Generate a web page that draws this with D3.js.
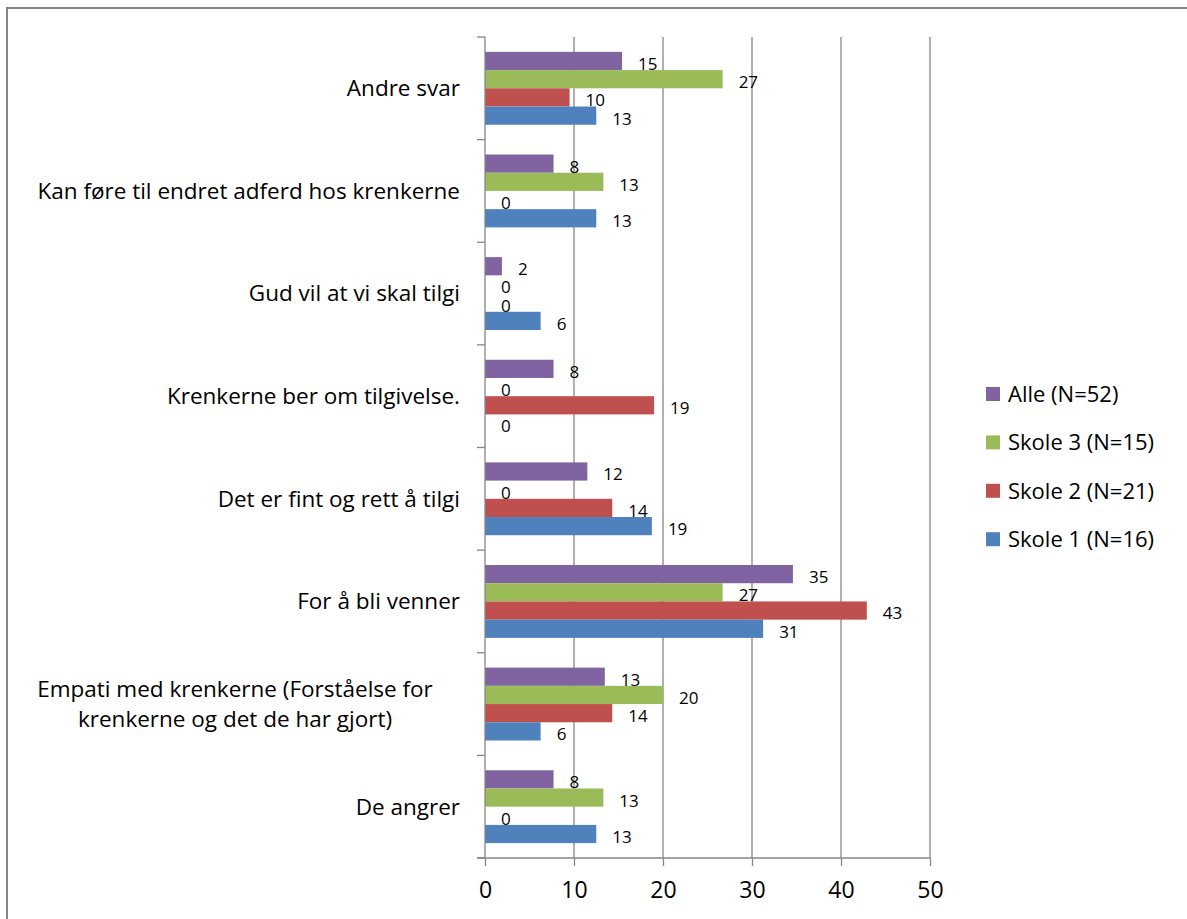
<!DOCTYPE html>
<html>
<head>
<meta charset="utf-8">
<script src="https://cdn.jsdelivr.net/npm/d3@7"></script>
<style>
  body { margin: 0; background: #fff; }
  text { font-family: "Open Sans", "Liberation Sans", Arial, sans-serif; fill: #000; }
</style>
</head>
<body>
<script>
// categories top to bottom
var categories = [
  "Andre svar",
  "Kan føre til endret adferd hos krenkerne",
  "Gud vil at vi skal tilgi",
  "Krenkerne ber om tilgivelse.",
  "Det er fint og rett å tilgi ",
  "For å bli venner",
  "Empati med krenkerne (Forståelse for|krenkerne og det de har gjort)",
  "De angrer"
];
var seriesNames = ["Alle (N=52)", "Skole 3 (N=15)", "Skole 2 (N=21)", "Skole 1 (N=16)"];
var alle   = [15.4, 7.7, 1.9, 7.7, 11.5, 34.6, 13.46, 7.7];
var skole3 = [26.7, 13.3, 0, 0, 0, 26.7, 20.0, 13.3];
var skole2 = [9.5, 0, 0, 19.0, 14.3, 42.9, 14.3, 0];
var skole1 = [12.5, 12.5, 6.25, 0, 18.75, 31.25, 6.25, 12.5];
var colors = ["#8064A2", "#9BBB59", "#C0504D", "#4F81BD"];
var xTicks = [0, 10, 20, 30, 40, 50];

var seriesValues = [alle, skole3, skole2, skole1];
var width = 1187, height = 919;
var gridColor = "#868686";

var svg = d3.select("body").append("svg")
    .attr("width", width)
    .attr("height", height);

// outer chart border (only top and left visible)
svg.append("path")
    .attr("d", "M7,919 V8 H1187")
    .attr("fill", "none")
    .attr("stroke", gridColor)
    .attr("stroke-width", 2);

var x = d3.scaleLinear().domain([0, 50]).range([485, 930]);
var y = d3.scaleBand().domain(categories).range([37, 858])
    .paddingInner(0.29).paddingOuter(0.145);
var ySub = d3.scaleBand().domain(d3.range(seriesNames.length)).range([0, y.bandwidth()]);

// gridlines
svg.append("g").selectAll("line")
    .data(xTicks.slice(1))
    .enter().append("line")
    .attr("x1", function (d) { return x(d); })
    .attr("x2", function (d) { return x(d); })
    .attr("y1", 37)
    .attr("y2", 858)
    .attr("stroke", gridColor)
    .attr("stroke-width", 1.3);

// bars
var rows = categories.map(function (c, i) {
    return seriesValues.map(function (vals, s) { return { cat: c, s: s, v: vals[i] }; });
});
var groups = svg.append("g").selectAll("g")
    .data(rows)
    .enter().append("g")
    .attr("transform", function (d, i) { return "translate(0," + y(categories[i]) + ")"; });

groups.selectAll("rect")
    .data(function (d) { return d; })
    .enter().append("rect")
    .attr("x", x(0))
    .attr("y", function (d) { return ySub(d.s); })
    .attr("width", function (d) { return x(d.v) - x(0); })
    .attr("height", ySub.bandwidth())
    .attr("fill", function (d) { return colors[d.s]; });

groups.selectAll("text")
    .data(function (d) { return d; })
    .enter().append("text")
    .attr("x", function (d) { return x(d.v) + 16; })
    .attr("y", function (d) { return ySub(d.s) + ySub.bandwidth() / 2 + 3; })
    .attr("dy", "0.35em")
    .style("font-size", "17px")
    .text(function (d) { return Math.round(d.v); });

// y axis line and ticks at category boundaries
var bounds = categories.map(function (c) { return y(c) - y.step() * y.paddingInner() / 2; });
bounds.push(858);
svg.append("line")
    .attr("x1", x(0)).attr("x2", x(0))
    .attr("y1", 37).attr("y2", 858)
    .attr("stroke", gridColor).attr("stroke-width", 1.3);
svg.append("g").selectAll("line")
    .data(bounds)
    .enter().append("line")
    .attr("x1", x(0) - 8).attr("x2", x(0))
    .attr("y1", function (d) { return d; })
    .attr("y2", function (d) { return d; })
    .attr("stroke", gridColor).attr("stroke-width", 1.3);

// category labels
svg.append("g").selectAll("text")
    .data(categories)
    .enter().append("text")
    .each(function (c) {
        var lines = c.split("|");
        var t = d3.select(this)
            .style("font-size", "22.5px")
            .attr("y", y(c) + y.bandwidth() / 2);
        if (lines.length === 1) {
            t.attr("x", 460).attr("text-anchor", "end").attr("dy", "0.35em").text(c);
        } else {
            t.attr("text-anchor", "middle");
            lines.forEach(function (l, k) {
                t.append("tspan")
                    .attr("x", 235)
                    .attr("dy", k === 0 ? (0.35 - 0.66) + "em" : "1.32em")
                    .text(l);
            });
        }
    });

// x axis
var xAxis = svg.append("g")
    .attr("transform", "translate(0,858)")
    .call(d3.axisBottom(x).tickValues(xTicks).tickSize(8).tickPadding(16));
xAxis.select(".domain").remove();
xAxis.selectAll(".tick line").attr("stroke", gridColor).attr("stroke-width", 1.3);
xAxis.selectAll(".tick text")
    .style("font-size", "23px")
    .style("font-family", "'Open Sans', 'Liberation Sans', Arial, sans-serif")
    .attr("fill", "#000");
svg.append("line")
    .attr("x1", x(0) - 8).attr("x2", x(50))
    .attr("y1", 858).attr("y2", 858)
    .attr("stroke", gridColor).attr("stroke-width", 1.3);

// legend
var legend = svg.append("g").selectAll("g")
    .data(seriesNames)
    .enter().append("g")
    .attr("transform", function (d, i) { return "translate(986," + (394 + i * 48.4) + ")"; });
legend.append("rect")
    .attr("x", 0).attr("y", -7)
    .attr("width", 14).attr("height", 14)
    .attr("fill", function (d, i) { return colors[i]; });
legend.append("text")
    .attr("x", 22)
    .attr("dy", "0.35em")
    .style("font-size", "22px")
    .text(function (d) { return d; });
</script>
</body>
</html>
